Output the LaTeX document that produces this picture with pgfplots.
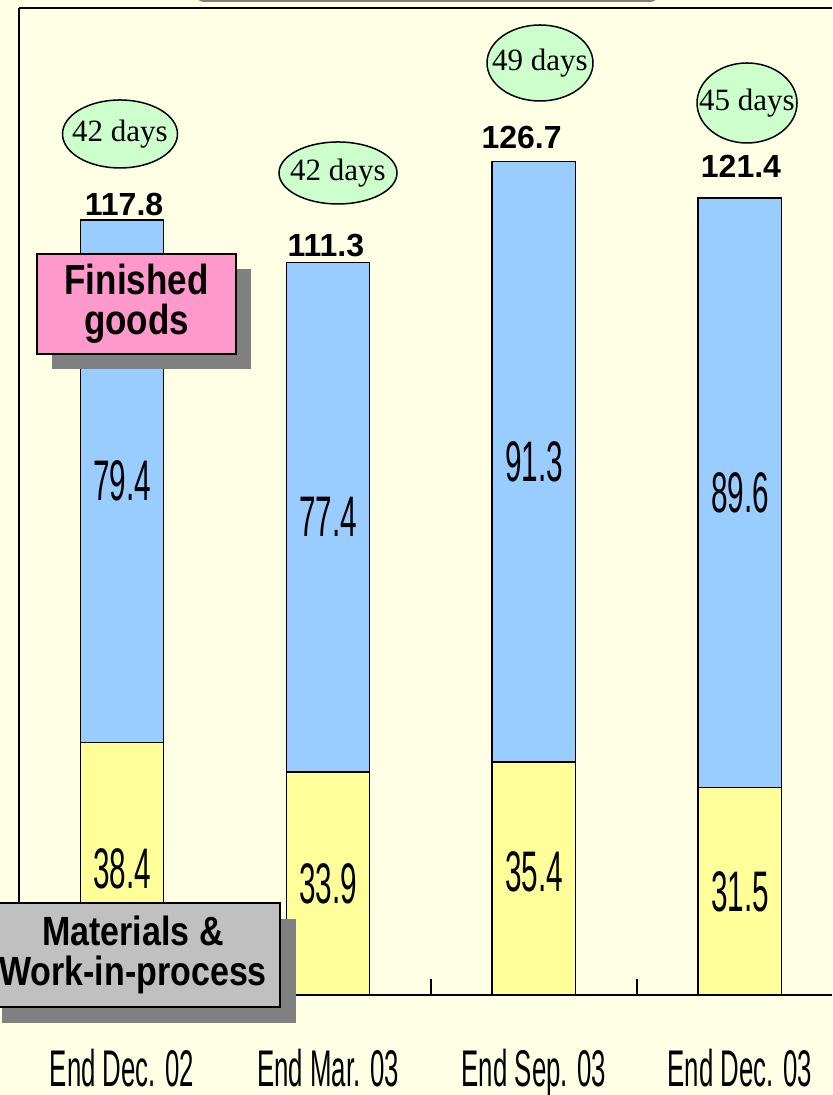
\documentclass[border=0pt]{standalone}
\usepackage{pgfplots}
\pgfplotsset{compat=1.18}
\usepackage{pgfplotstable}
\usepackage{graphicx}
\usepackage{fontspec}
\setmainfont{Liberation Sans}
\newfontfamily\timesf{Liberation Serif}
\definecolor{bg}{RGB}{255,255,230}
\definecolor{fgblue}{RGB}{153,204,255}
\definecolor{wipyellow}{RGB}{255,255,153}
\definecolor{daygreen}{RGB}{204,255,204}
\definecolor{pinkbox}{RGB}{255,153,204}
\definecolor{silverbox}{RGB}{192,192,192}
\definecolor{shadowgray}{RGB}{128,128,128}

\pgfplotstableread{
x wip fg
0 38.4 79.4
1 33.9 77.4
2 35.4 91.3
3 31.5 89.6
}\inv

\newcommand{\segval}[1]{{\fontsize{28.6}{30}\selectfont\scalebox{0.52}[1]{#1}}}
\newcommand{\tot}[1]{{\fontsize{16}{18}\selectfont\bfseries #1}}
\newcommand{\days}[1]{{\timesf\fontsize{15.5}{17}\selectfont #1}}
\newcommand{\xl}[1]{\scalebox{0.5}[1]{#1}}

\begin{document}
\begin{tikzpicture}
\fill[bg] (-9.5pt,-50pt) rectangle (406.5pt,497.5pt);
\draw[gray, line width=1pt, rounded corners=4pt, fill=white] (88.5pt,497pt) rectangle (319.5pt,520pt);
\begin{axis}[
  scale only axis, width=406.5pt, height=493.5pt,
  xmin=-0.5, xmax=3.447, ymin=0, ymax=150,
  ybar stacked, bar width=0.405,
  axis x line*=bottom, axis y line*=left,
  axis line style={line width=1pt, -},
  ytick=\empty,
  xtick={0,1,2,3},
  xticklabels={\xl{End Dec. 02}, \xl{End Mar. 03}, \xl{End Sep. 03}, \xl{End Dec. 03}},
  major tick length=0pt,
  extra x ticks={0.5,1.5,2.5},
  extra x tick labels={},
  extra x tick style={major tick length=8pt, tick align=inside, tick style={line width=0.75pt, black}},
  xticklabel style={anchor=base, yshift=-45.5pt, font=\fontsize{25.8}{27}\selectfont},
  clip=false,
]
\addplot[fill=wipyellow, draw=black, line width=0.75pt] table[x=x,y=wip]{\inv};
\addplot[fill=fgblue, draw=black, line width=0.75pt] table[x=x,y=fg]{\inv};
\draw[line width=1pt] (rel axis cs:0,1) -- (rel axis cs:1,1);
% totals
\node[anchor=base, inner sep=0pt] at (axis cs:0.01,118.5) {\tot{117.8}};
\node[anchor=base, inner sep=0pt] at (axis cs:0.99,112.3) {\tot{111.3}};
\node[anchor=base, inner sep=0pt] at (axis cs:1.94,128.7) {\tot{126.7}};
\node[anchor=base, inner sep=0pt] at (axis cs:3.005,124.3) {\tot{121.4}};
\end{axis}
% segment values (x: 102.99pt per category, y: 3.29pt per unit)
\node at (51.5pt,256.9pt) {\segval{79.4}};
\node at (51.5pt,63.2pt) {\segval{38.4}};
\node at (154.5pt,238.9pt) {\segval{77.4}};
\node at (154.5pt,55.8pt) {\segval{33.9}};
\node at (257.5pt,266.7pt) {\segval{91.3}};
\node at (257.5pt,61.5pt) {\segval{35.4}};
\node at (360.5pt,251.0pt) {\segval{89.6}};
\node at (360.5pt,51.8pt) {\segval{31.5}};
% day ellipses
\draw[fill=daygreen, line width=0.75pt] (50.5pt,430.5pt) ellipse (28.75pt and 17pt);
\node at (50.5pt,430.5pt) {\days{42 days}};
\draw[fill=daygreen, line width=0.75pt] (159.5pt,411pt) ellipse (29.5pt and 15.5pt);
\node at (159.5pt,411pt) {\days{42 days}};
\draw[fill=daygreen, line width=0.75pt] (260.5pt,466pt) ellipse (26.5pt and 19pt);
\node at (260.5pt,466pt) {\days{49 days}};
\draw[fill=daygreen, line width=0.75pt] (364pt,446pt) ellipse (25pt and 20pt);
\node at (364pt,446pt) {\days{45 days}};
% Finished goods box
\fill[shadowgray] (16.5pt,313pt) rectangle (116pt,363pt);
\draw[fill=pinkbox, line width=1pt] (9pt,320.5pt) rectangle (108.5pt,370.5pt);
\node[align=center, font=\fontsize{17.5}{16.7}\selectfont\bfseries, yscale=1.2, transform shape] at (58.75pt,345.5pt) {Finished\\goods};
% Materials box
\fill[shadowgray] (-8.5pt,-14pt) rectangle (138.5pt,38pt);
\draw[fill=silverbox, line width=1pt] (-16.5pt,-6pt) rectangle (130.5pt,46pt);
\node[align=center, font=\fontsize{17}{16.7}\selectfont\bfseries, yscale=1.2, transform shape] at (57pt,20pt) {Materials \&\\Work-in-process};
\pgfresetboundingbox
\useasboundingbox (-9.5pt,-50pt) rectangle (406.5pt,497.5pt);
\end{tikzpicture}
\end{document}
